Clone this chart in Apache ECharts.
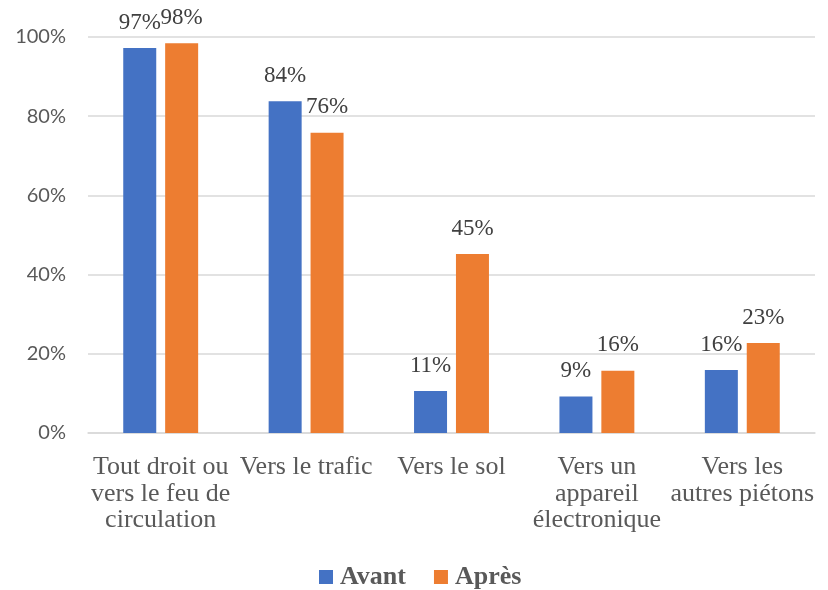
<!DOCTYPE html>
<html>
<head>
<meta charset="utf-8">
<script src="https://cdn.jsdelivr.net/npm/echarts@6/dist/echarts.min.js"></script>
<style>
  html, body { margin: 0; padding: 0; background: #fff; }
  #chart { width: 828px; height: 590px; }
</style>
</head>
<body>
<div id="chart"></div>
<script>
// catégories et valeurs
var categories = [
  'Tout droit ou\nvers le feu de\ncirculation',
  'Vers le trafic',
  'Vers le sol',
  'Vers un\nappareil\nélectronique',
  'Vers les\nautres piétons'
];
var avant = [97.2, 83.8, 10.6, 9.2, 15.9];
var apres = [98.4, 75.8, 45.2, 15.7, 22.7];
var yTicks = [0, 20, 40, 60, 80, 100];

var chartDom = document.getElementById('chart');
var myChart = echarts.init(chartDom);

var labelStyle = {
  show: true,
  position: 'top',
  distance: 14,
  fontFamily: 'Liberation Serif',
  fontSize: 23,
  color: '#404040',
  formatter: function (p) { return Math.round(p.value) + '%'; }
};

var option = {
  animation: false,
  backgroundColor: '#ffffff',
  grid: {
    left: 88,
    right: 13,
    top: 37,
    bottom: 157
  },
  legend: {
    bottom: 0,
    left: 319,
    padding: 0,
    itemWidth: 14,
    itemHeight: 14,
    itemGap: 28,
    icon: 'rect',
    textStyle: {
      fontFamily: 'Liberation Serif',
      fontWeight: 'bold',
      fontSize: 26,
      color: '#595959',
      padding: [0, 0, 0, 2]
    },
    data: ['Avant', 'Après']
  },
  xAxis: {
    type: 'category',
    data: categories,
    axisTick: { show: false },
    axisLine: { lineStyle: { color: '#d9d9d9', width: 1.5 } },
    axisLabel: {
      interval: 0,
      margin: 21,
      fontFamily: 'Liberation Serif',
      fontSize: 26,
      lineHeight: 26.5,
      color: '#595959'
    }
  },
  yAxis: {
    type: 'value',
    min: yTicks[0],
    max: yTicks[yTicks.length - 1],
    interval: 20,
    axisLine: { show: false },
    axisTick: { show: false },
    splitLine: { lineStyle: { color: '#d9d9d9', width: 1.5 } },
    axisLabel: {
      margin: 22,
      fontFamily: 'Lato',
      fontSize: 20,
      color: '#595959',
      formatter: '{value}%'
    }
  },
  series: [
    {
      name: 'Avant',
      type: 'bar',
      data: avant,
      barWidth: 33,
      barGap: '27%',
      itemStyle: { color: '#4472c4' },
      label: labelStyle
    },
    {
      name: 'Après',
      type: 'bar',
      data: apres,
      barWidth: 33,
      barGap: '27%',
      itemStyle: { color: '#ed7d31' },
      label: labelStyle
    }
  ]
};

myChart.setOption(option);
</script>
</body>
</html>
